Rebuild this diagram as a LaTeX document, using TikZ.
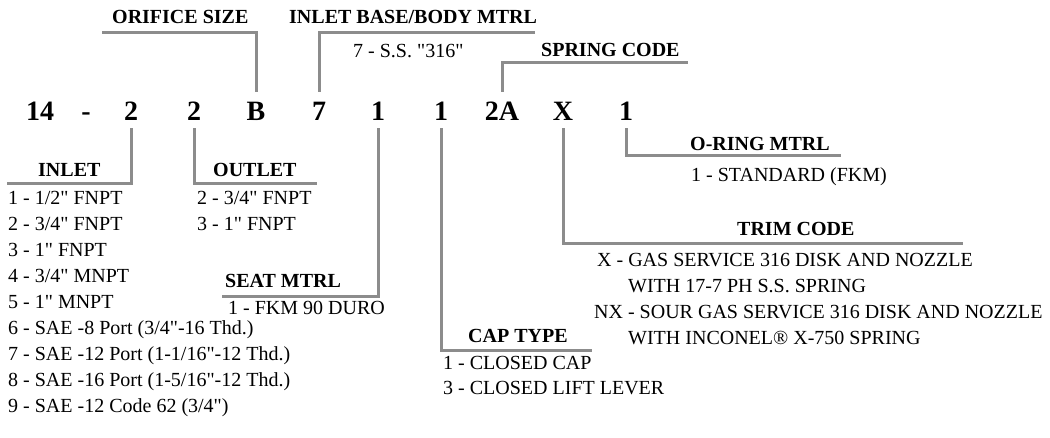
\documentclass[tikz,border=0pt]{standalone}
\usepackage{fontspec}
\setmainfont{Liberation Serif}
\newfontfamily\scanfont{Liberation Serif}
\usetikzlibrary{positioning}
\tikzset{
    code/.style={font=\scanfont\fontsize{28}{28}\selectfont\bfseries,
                 anchor=base, inner xsep=2pt, inner ysep=8pt,
                 text height=20pt, text depth=0pt},
    head/.style={font=\scanfont\fontsize{20}{20}\selectfont\bfseries,
                 anchor=base west, inner sep=0pt},
    entry/.style={font=\scanfont\fontsize{20}{20}\selectfont,
                  anchor=base west, inner sep=0pt},
    lead/.style={draw=black!45, line width=3pt},
}
\begin{document}
\begin{tikzpicture}[x=1pt,y=-1pt]
    \useasboundingbox (0,0) rectangle (1050,437);
    \pgfmathsetmacro\CodeY{120}
    \pgfmathsetmacro\RowTop{204}
    \pgfmathsetmacro\RowSkip{26}
    %
    %
        % Codice
    \node[code] (c14)     at (40,\CodeY)  {14};
    \node[code] (cdash)   at (86,\CodeY)  {-};
    \node[code] (cin)     at (131,\CodeY) {2};
    \node[code] (cout)    at (194,\CodeY) {2};
    \node[code] (corf)    at (256,\CodeY) {B};
    \node[code] (cbody)   at (319,\CodeY) {7};
    \node[code] (cseat)   at (378,\CodeY) {1};
    \node[code] (ccap)    at (441,\CodeY) {1};
    \node[code] (cspring) at (502,\CodeY) {2A};
    \node[code] (ctrim)   at (563,\CodeY) {X};
    \node[code] (coring)  at (626,\CodeY) {1};
    %
    %
        % Orifice size
    \node[head] (horf) at (112,23.5) {ORIFICE SIZE};
    \coordinate (orfend) at (102,32);
    \draw[lead] (corf.north) |- (orfend);
    %
        % Inlet base/body
    \node[head] (hbody) at (289,23.5) {INLET BASE/BODY MTRL};
    \node[entry] (body-1) at (353,57) {7 - S.S. "316"};
    \coordinate (bodyend) at (535,32);
    \draw[lead] (cbody.north) |- (bodyend);
    %
        % Spring code
    \node[head] (hspring) at (541,56) {SPRING CODE};
    \coordinate (springend) at (688,62);
    \draw[lead] (cspring.north) |- (springend);
    %
    %
        % Inlet
    \node[head] (hin) at (38,176) {INLET};
    \coordinate (inend) at (7,183);
    \draw[lead] (cin.south) |- (inend);
    \foreach \txt [count=\i] in {{1 - 1/2" FNPT},{2 - 3/4" FNPT},{3 - 1" FNPT},
        {4 - 3/4" MNPT},{5 - 1" MNPT},{6 - SAE -8 Port (3/4"-16 Thd.)},
        {7 - SAE -12 Port (1-1/16"-12 Thd.)},{8 - SAE -16 Port (1-5/16"-12 Thd.)},
        {9 - SAE -12 Code 62 (3/4")}}
        \node[entry] (in-\i) at (8,{\RowTop+\RowSkip*(\i-1)}) {\txt};
    %
        % Outlet
    \node[head] (hout) at (213,176) {OUTLET};
    \coordinate (outend) at (317,183);
    \draw[lead] (cout.south) |- (outend);
    \node[entry] (out-1) at (197,\RowTop) {2 - 3/4" FNPT};
    \node[entry] (out-2) at (197,\RowTop+\RowSkip) {3 - 1" FNPT};
    %
        % Seat
    \node[head] (hseat) at (225,287) {SEAT MTRL};
    \coordinate (seatend) at (222,296);
    \draw[lead] (cseat.south) |- (seatend);
    \node[entry] (seat-1) at (228,314) {1 - FKM 90 DURO};
    %
        % Cap type
    \node[head] (hcap) at (468,342) {CAP TYPE};
    \coordinate (capend) at (592,350);
    \draw[lead] (ccap.south) |- (capend);
    \node[entry] (cap-1) at (443,369) {1 - CLOSED CAP};
    \node[entry] (cap-2) at (443,394) {3 - CLOSED LIFT LEVER};
    %
        % Trim code
    \node[head] (htrim) at (737,235) {TRIM CODE};
    \coordinate (trimend) at (963,243);
    \draw[lead] (ctrim.south) |- (trimend);
    \node[entry] (trim-1) at (597,266) {X - GAS SERVICE 316 DISK AND NOZZLE};
    \node[entry] (trim-2) at (628,292) {WITH 17-7 PH S.S. SPRING};
    \node[entry] (trim-3) at (594,318) {NX - SOUR GAS SERVICE 316 DISK AND NOZZLE};
    \node[entry] (trim-4) at (628,344) {WITH INCONEL® X-750 SPRING};
    %
        % O-ring
    \node[head] (horing) at (690,150) {O-RING MTRL};
    \coordinate (oringend) at (841,155);
    \draw[lead] (coring.south) |- (oringend);
    \node[entry] (oring-1) at (691,181) {1 - STANDARD (FKM)};
\end{tikzpicture}
\end{document}
